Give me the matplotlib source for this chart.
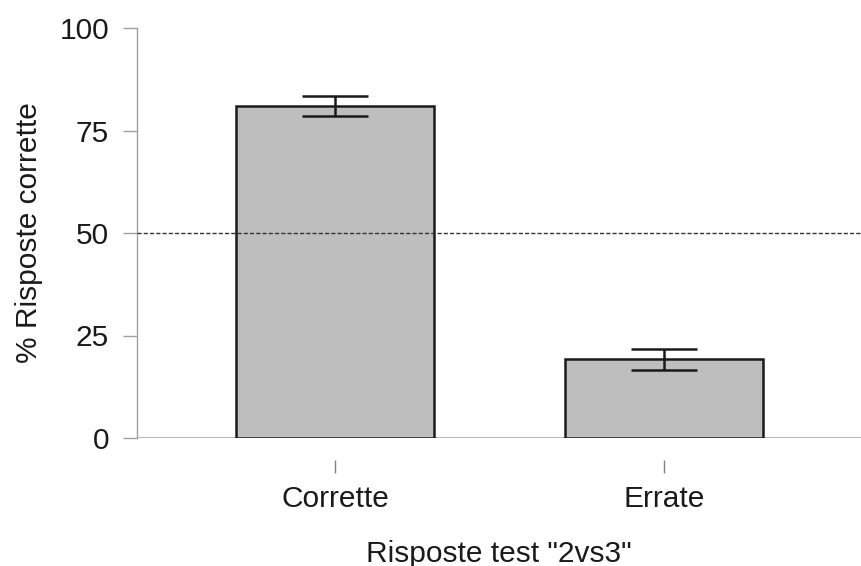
import matplotlib.pyplot as plt
import numpy as np

plt.rcParams['font.family'] = ['Liberation Sans', 'DejaVu Sans']

categorie = ['Corrette', 'Errate']
percentuali = [81.0, 19.2]
errori = [2.5, 2.5]
soglia = 50

fig = plt.figure(figsize=(8.61, 5.66), dpi=100)
ax = fig.add_axes([137/861, 128/566, 724/861, 410/566])

x = np.arange(len(categorie))
ax.bar(x, percentuali, width=0.6, color='#bebebe', edgecolor='#1a1a1a', linewidth=1.8, zorder=2)
ax.errorbar(x, percentuali, yerr=errori, fmt='none', ecolor='#1a1a1a',
            elinewidth=1.8, capsize=24, capthick=1.8, zorder=3)
ax.axhline(soglia, color='#333333', linestyle=(0, (3, 1.5)), linewidth=1, zorder=4)
ax.axhline(0, color='#b0b0b0', linewidth=1.3, zorder=1)

ax.set_xlim(-0.602, 1.599)
ax.set_ylim(0, 100)
ax.set_yticks([0, 25, 50, 75, 100])
ax.set_xticks(x)
ax.set_xticklabels(categorie)

for s in ['top', 'right', 'bottom']:
    ax.spines[s].set_visible(False)
ax.spines['left'].set_color('#a0a0a0')
ax.spines['left'].set_linewidth(1)
ax.spines['bottom'].set_position(('outward', 16))

ax.tick_params(axis='y', length=10, width=1, color='#a0a0a0', pad=10,
               labelsize=21.5, labelcolor='#1a1a1a')
ax.tick_params(axis='x', length=9, width=1, color='#808080', pad=9,
               labelsize=21.5, labelcolor='#1a1a1a')

ax.set_ylabel('% Risposte corrette', fontsize=21.5, color='#1a1a1a', labelpad=12)
ax.set_xlabel('Risposte test "2vs3"', fontsize=21.5, color='#1a1a1a', labelpad=19)

fig.savefig('out.png', dpi=100)
